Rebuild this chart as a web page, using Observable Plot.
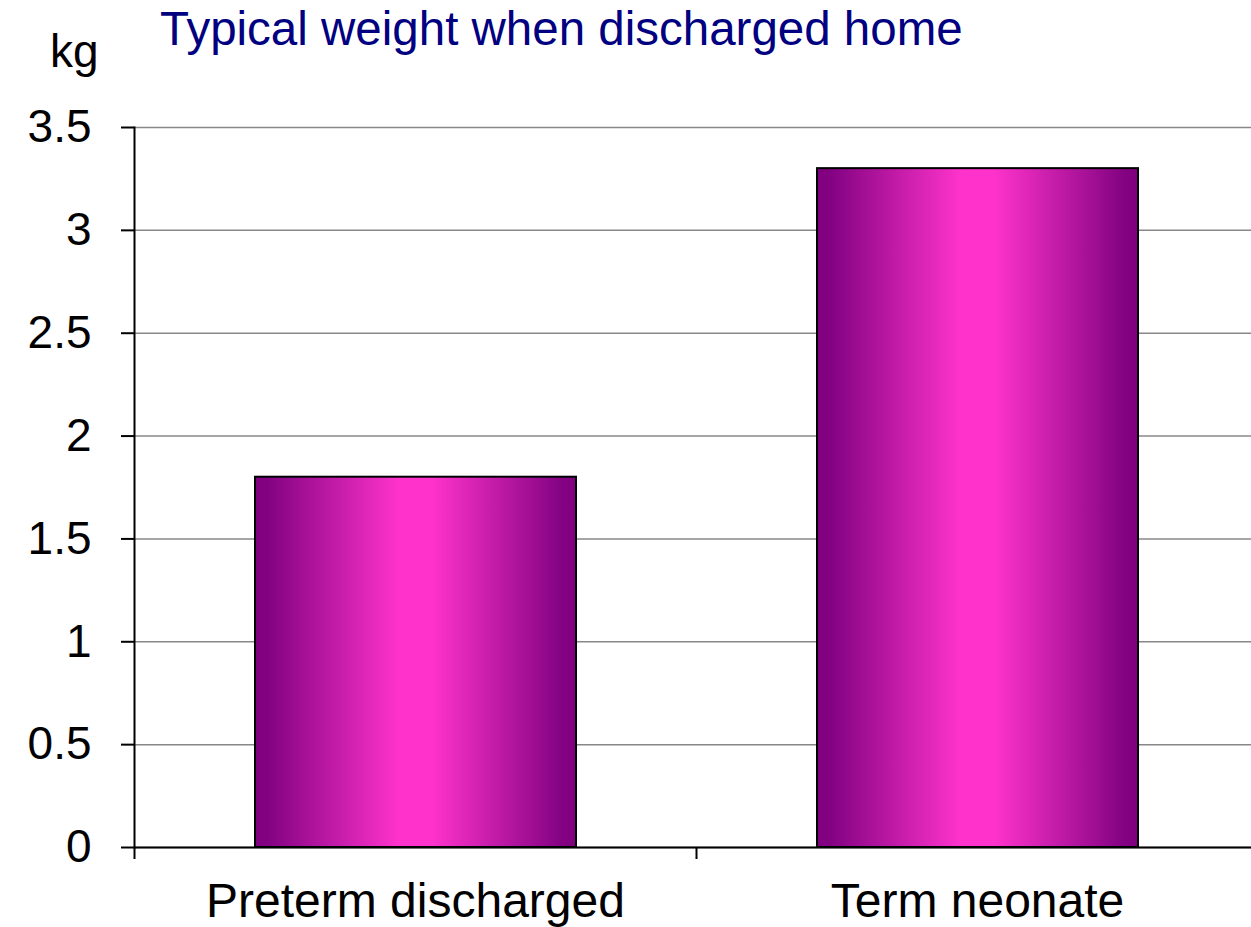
<!DOCTYPE html>
<html>
<head>
<meta charset="utf-8">
<script src="https://cdn.jsdelivr.net/npm/d3@7"></script>
<script src="https://cdn.jsdelivr.net/npm/@observablehq/plot@0.6"></script>
<style>
  html, body { margin: 0; padding: 0; background: #fff; overflow: hidden; }
  #wrap { position: relative; width: 1251px; height: 927px; overflow: hidden; font-family: "Liberation Sans", Arial, sans-serif; }
  #title { position: absolute; left: 160px; top: 5px; font-size: 47.5px; line-height: 1; color: #000080; white-space: nowrap; }
  #unit { position: absolute; left: 50px; top: 28px; font-size: 46px; line-height: 1; color: #000; }
  #chart { position: absolute; left: 0; top: 0; width: 1258px; }
  #chart svg { max-width: none !important; }
</style>
</head>
<body>
<div id="wrap">
  <div id="chart"></div>
  <div id="title">Typical weight when discharged home</div>
  <div id="unit">kg</div>
</div>
<script>
const categories = ["Preterm discharged", "Term neonate"];
const weights = [1.8, 3.3];
const yTicks = [0, 0.5, 1, 1.5, 2, 2.5, 3, 3.5];

const data = categories.map((c, i) => ({category: c, weight: weights[i]}));

const W = 1258, H = 927, ML = 134, MR = 0, MT = 127, MB = 80;
const bw = (W - ML - MR) / categories.length;

const gradientStops = [
  ["0%", "#800080"], ["4%", "#820282"], ["45%", "#ff33cc"],
  ["55%", "#ff33cc"], ["96%", "#820282"], ["100%", "#800080"]
];

const defs = () => {
  const d = d3.create("svg:defs");
  const g = d.append("linearGradient").attr("id", "barGrad").attr("x1", 0).attr("x2", 1).attr("y1", 0).attr("y2", 0);
  for (const [o, c] of gradientStops) g.append("stop").attr("offset", o).attr("stop-color", c);
  return d.node();
};

const chart = Plot.plot({
  width: W,
  height: H,
  marginLeft: ML,
  marginRight: MR,
  marginTop: MT,
  marginBottom: MB,
  style: {fontFamily: "'Liberation Sans', Arial, sans-serif", fontSize: "46px", color: "#000", background: "transparent", overflow: "visible", maxWidth: "none"},
  x: {domain: categories, padding: 0, axis: null},
  y: {domain: [0, 3.5], axis: null},
  marks: [
    defs,
    Plot.gridY(yTicks, {stroke: "#888", strokeOpacity: 1, strokeWidth: 1.5}),
    Plot.barY(data, {x: "category", y: "weight", fill: "url(#barGrad)", stroke: "#000", strokeWidth: 2, insetLeft: 121, insetRight: 120}),
    Plot.axisY(yTicks, {tickSize: 13, tickPadding: 30, tickFormat: d => String(d), fontSize: 46, stroke: "#000", strokeWidth: 2, label: null}),
    Plot.axisX({tickSize: 0, tickPadding: 35, fontSize: 48, label: null}),
    Plot.ruleX(categories, {x: d => d, y1: 0, y2: 0, insetBottom: -12, dx: -bw / 2, stroke: "#000", strokeWidth: 2}),
    Plot.ruleY([0], {stroke: "#000", strokeWidth: 2}),
    Plot.frame({anchor: "left", stroke: "#000", strokeWidth: 2})
  ]
});
document.getElementById("chart").appendChild(chart);
</script>
</body>
</html>
